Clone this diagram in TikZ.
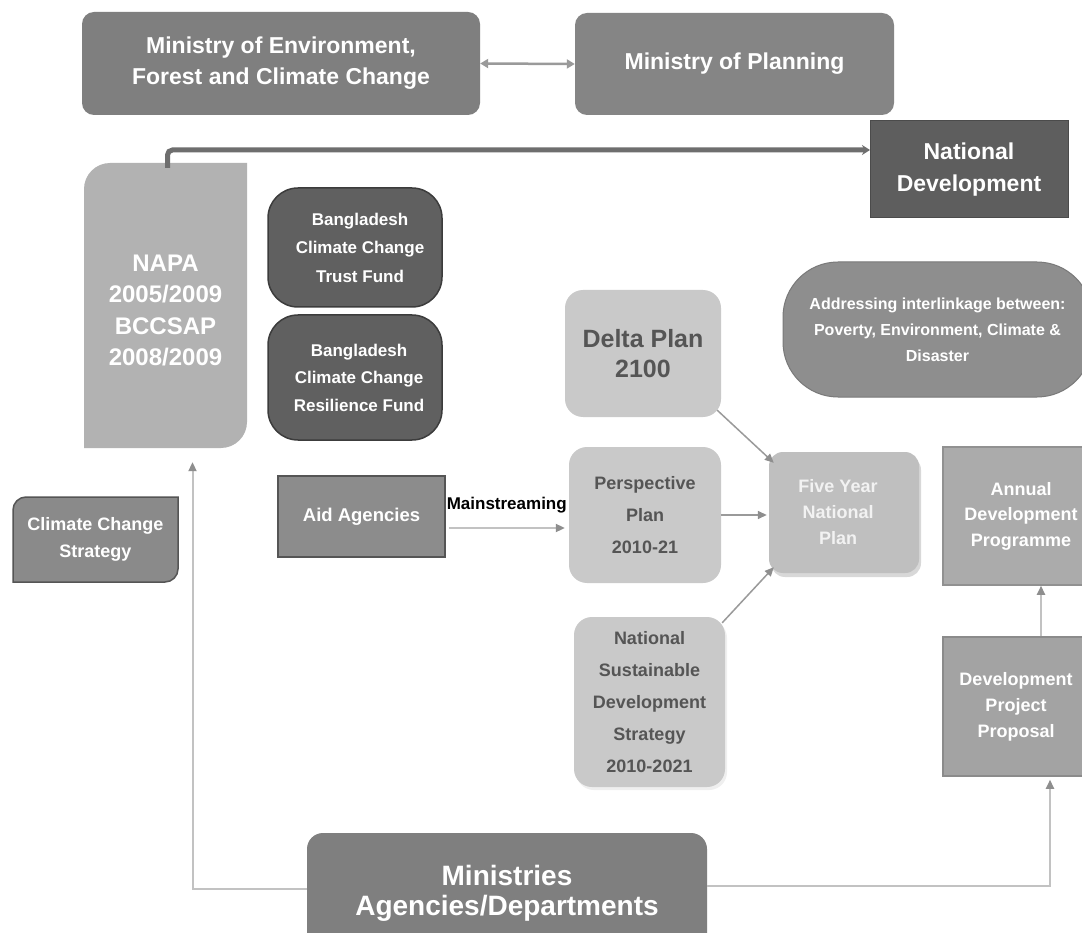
\documentclass[tikz,border=0pt]{standalone}
\usepackage{fontspec}
\setmainfont{Liberation Sans}
\usetikzlibrary{arrows.meta,calc,shadows}
\newcommand{\tlbrbox}[6]{%
  \path[#1] (#2,#5) -- (#2,#3+#6) .. controls (#2,#3+0.45*#6) and (#2+0.45*#6,#3) .. (#2+#6,#3)
    -- (#4,#3) -- (#4,#5-#6) .. controls (#4,#5-0.45*#6) and (#4-0.45*#6,#5) .. (#4-#6,#5) -- cycle;}
\newcommand{\fs}[2]{\fontsize{#1}{#2}\selectfont\bfseries}
\definecolor{cMin}{HTML}{7F7F7F}
\definecolor{cPlan}{HTML}{858585}
\definecolor{cND}{HTML}{5E5E5E}
\definecolor{cNapa}{HTML}{B2B2B2}
\definecolor{cFund}{HTML}{606060}
\definecolor{cFundB}{HTML}{3C3C3C}
\definecolor{cMid}{HTML}{8A8A8A}
\definecolor{cBord}{HTML}{555555}
\definecolor{cLight}{HTML}{C9C9C9}
\definecolor{cLightTxt}{HTML}{555555}
\definecolor{cFyp}{HTML}{BFBFBF}
\definecolor{cAddr}{HTML}{8E8E8E}
\definecolor{cAdp}{HTML}{ABABAB}
\definecolor{cDpp}{HTML}{A3A3A3}
\definecolor{cLine}{HTML}{9A9A9A}
\definecolor{cPale}{HTML}{C2C2C2}
\definecolor{cHead}{HTML}{8E8E8E}
\definecolor{cThick}{HTML}{6E6E6E}
\tikzset{
  box/.style={inner sep=0pt, align=center, text=white},
  darkbox/.style={box, fill=cMin, rounded corners=12pt},
  lightbox/.style={box, fill=cLight, rounded corners=18pt, text=cLightTxt},
  sqbox/.style={box, draw=cBord, line width=1.5pt},
  fundbox/.style={box, fill=cFund, draw=cFundB, line width=1.5pt, rounded corners=30pt},
  conn/.style={draw=cLine, line width=1.5pt, -{Triangle[length=9pt,width=8pt,color=cHead]}},
  paleconn/.style={draw=cPale, line width=2pt, -{Triangle[length=9pt,width=8pt,color=cHead]}},
  thickconn/.style={draw=cThick, line width=5pt, rounded corners=5pt, -{Stealth[length=8pt,width=10pt]}},
  dblconn/.style={draw=cLine, line width=2.5pt, {Triangle[length=8pt,width=9pt]}-{Triangle[length=8pt,width=9pt]}},
}
\begin{document}
\begin{tikzpicture}[x=1pt,y=-1pt]
\useasboundingbox[fill=white] (0,0) rectangle (1082,933);

% top ministries
\node[darkbox, minimum width=398pt, minimum height=103pt, font=\fs{23}{31}] (moe) at (281,63.5)
  {Ministry of Environment,\\Forest and Climate Change};
\node[darkbox, fill=cPlan, minimum width=319pt, minimum height=102pt, font=\fs{23}{31}] (mop) at (734.5,64)
  {Ministry of Planning};
\draw[dblconn] (moe.east) -- (mop.west);

% national development
\node[box, fill=cND, draw=cND!80!black, line width=1pt, minimum width=198pt, minimum height=97pt, font=\fs{23}{32}] (nd) at (969,169.5)
  {National\\Development};

% NAPA
\tlbrbox{fill=cNapa}{84}{163}{247}{448}{26}
\node[box, minimum width=163pt, minimum height=285pt, font=\fs{24}{31.5}] (napa) at (165.5,310.5)
  {NAPA\\2005/2009\\BCCSAP\\2008/2009};
\coordinate (ndin) at (870,150);
\draw[thickconn] ([xshift=2pt]napa.north) |- (ndin);

% funds
\node[fundbox, minimum width=174pt, minimum height=119pt, font=\fs{17}{28.5}] (bcctf) at (355,247.5)
  {\hspace*{10pt}Bangladesh\\\hspace*{10pt}Climate Change\\\hspace*{10pt}Trust Fund};
\node[fundbox, minimum width=174pt, minimum height=125pt, font=\fs{17}{27.5}] (bccrf) at (355,377.5)
  {\hspace*{8pt}Bangladesh\\\hspace*{8pt}Climate Change\\\hspace*{8pt}Resilience Fund};

% climate change strategy
\tlbrbox{fill=cMid, draw=cBord, line width=1.5pt}{13}{497}{178}{582}{13}
\node[box, minimum width=165pt, minimum height=85pt, font=\fs{18}{27}] (ccs) at (95.5,539.5)
  {Climate Change\\Strategy};

% aid agencies
\node[sqbox, fill=cMid!98!white, minimum width=167pt, minimum height=81pt, font=\fs{18.5}{24}] (aid) at (361.5,516.5)
  {Aid Agencies};

% plans
\node[lightbox, minimum width=156pt, minimum height=127pt, font=\fs{25}{30}] (delta) at (643,353.5)
  {Delta Plan\\2100};
\node[lightbox, minimum width=152pt, minimum height=136pt, font=\fs{18}{32}] (persp) at (645,515)
  {Perspective\\Plan\\2010-21};
\node[lightbox, minimum width=151pt, minimum height=170pt, font=\fs{18}{32.2}, drop shadow={shadow xshift=2pt, shadow yshift=-3pt, fill=black!12}] (nsds) at (649.5,702)
  {National\\Sustainable\\Development\\Strategy\\2010-2021};
\node[lightbox, fill=cFyp, rounded corners=14pt, text=white!95!black, minimum width=150pt, minimum height=121pt, font=\fs{18}{26}, drop shadow={shadow xshift=2pt, shadow yshift=-4pt, fill=black!30}] (fyp) at (844,512.5)
  {\hspace*{-12pt}Five Year\\\hspace*{-12pt}National\\\hspace*{-12pt}Plan};

\draw[paleconn] ([shift={(3,11.5)}]aid.east) -- ([shift={(-4,13)}]persp.west)
  node[midway, yshift=23pt, text=black, font=\fs{17}{20}] (mainlbl) {Mainstreaming};
\draw[conn] ([shift={(-4,-7)}]delta.south east) -- ([shift={(5,11)}]fyp.north west);
\draw[conn] (persp.east) -- ([xshift=-2pt]persp.east -| fyp.west);
\draw[conn] ([shift={(-3,6)}]nsds.north east) -- ([shift={(5,-6)}]fyp.south west);

% addressing
\node[box, fill=cAddr, draw=cAddr!85!black, line width=1pt, rounded corners=55pt, minimum width=309pt, minimum height=135pt, font=\fs{16}{26}] (addr) at (937.5,329.5)
  {Addressing interlinkage between:\\Poverty, Environment, Climate \&\\Disaster};

% right column
\node[box, fill=cAdp, draw=cAdp!85!black, line width=1.5pt, minimum width=156pt, minimum height=138pt, font=\fs{18}{25.5}] (adp) at (1021,516)
  {Annual\\Development\\Programme};
\node[box, fill=cDpp, draw=cDpp!85!black, line width=1.5pt, minimum width=146pt, minimum height=139pt, font=\fs{18}{26}] (dpp) at (1016,706.5)
  {Development\\Project\\Proposal};
\draw[paleconn] ($(dpp.north)+(25,0)$) -- ($(adp.south)+(20,0)$);

% ministries agencies
\node[darkbox, rounded corners=16pt, minimum width=400pt, minimum height=120pt, font=\fs{28}{30}] (mins) at (507,893)
  {Ministries\\Agencies/Departments};
\draw[paleconn] ([yshift=4pt]mins.west) -| ($(napa.south)+(27,9)$);
\draw[paleconn] ([yshift=7pt]mins.east) -| ($(dpp.south)+(34,3)$);
\end{tikzpicture}
\end{document}
